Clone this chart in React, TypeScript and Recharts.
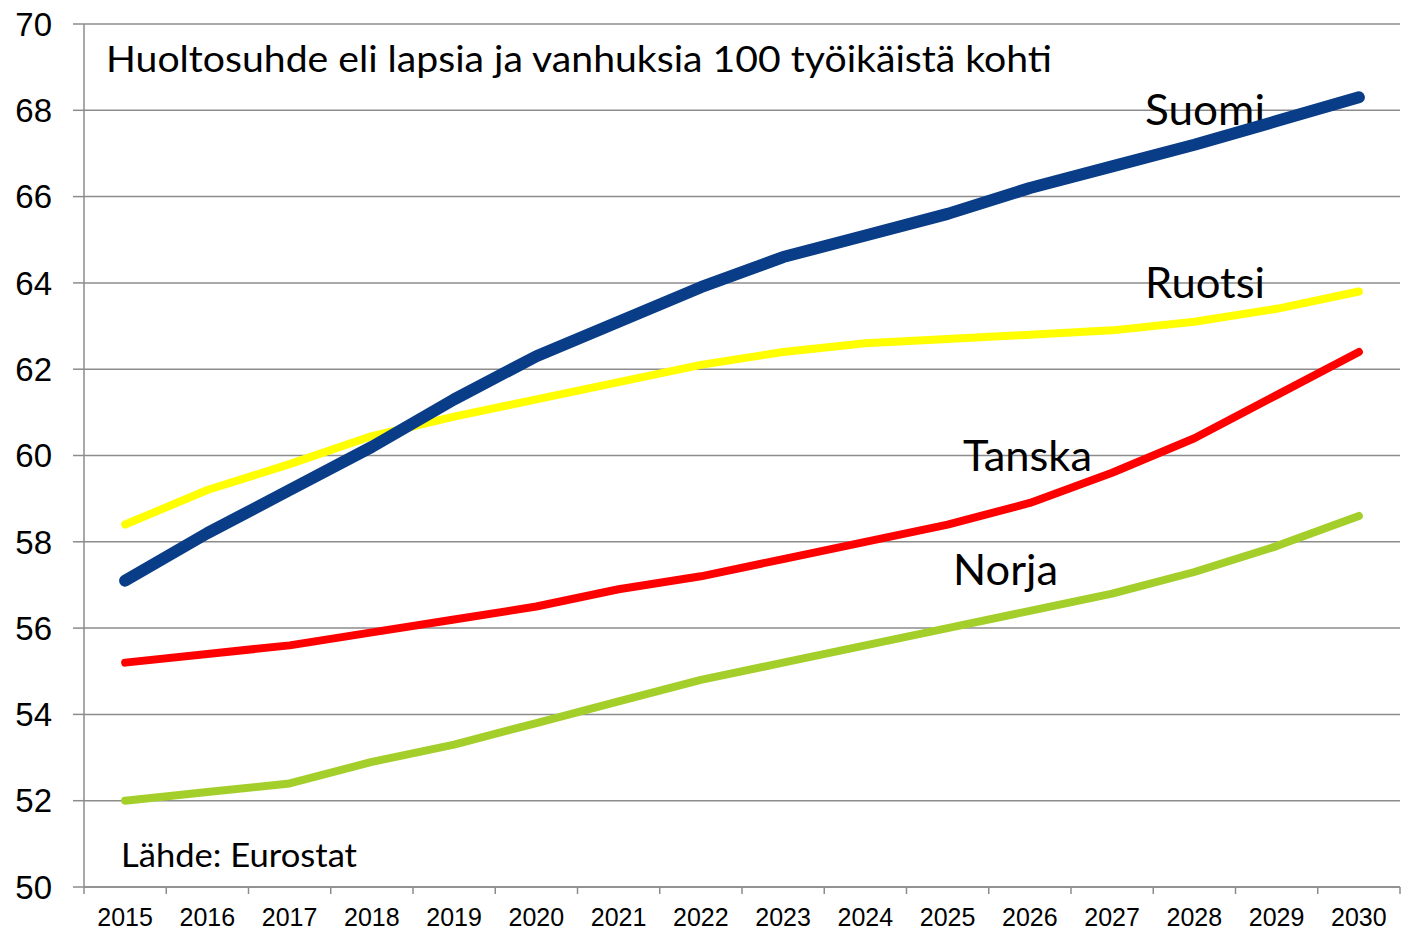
import React from 'react';
import { LineChart, Line, XAxis, YAxis, CartesianGrid, Customized } from 'recharts';

const years = ['2015','2016','2017','2018','2019','2020','2021','2022','2023','2024','2025','2026','2027','2028','2029','2030'];
const suomi = [57.1, 58.2, 59.2, 60.2, 61.3, 62.3, 63.1, 63.9, 64.6, 65.1, 65.6, 66.2, 66.7, 67.2, 67.75, 68.3];
const ruotsi = [58.4, 59.2, 59.8, 60.45, 60.9, 61.3, 61.7, 62.1, 62.4, 62.6, 62.7, 62.8, 62.9, 63.1, 63.4, 63.8];
const tanska = [55.2, 55.4, 55.6, 55.9, 56.2, 56.5, 56.9, 57.2, 57.6, 58.0, 58.4, 58.9, 59.6, 60.4, 61.4, 62.4];
const norja = [52.0, 52.2, 52.4, 52.9, 53.3, 53.8, 54.3, 54.8, 55.2, 55.6, 56.0, 56.4, 56.8, 57.3, 57.9, 58.6];
const yTicks = [50, 52, 54, 56, 58, 60, 62, 64, 66, 68, 70];

const title = 'Huoltosuhde eli lapsia ja vanhuksia 100 työikäistä kohti';
const source = 'Lähde: Eurostat';

const data = years.map((y, i) => ({ year: y, suomi: suomi[i], ruotsi: ruotsi[i], tanska: tanska[i], norja: norja[i] }));

const GRID = '#8c8c8c';
const LABEL_FONT = 'Lato, "Open Sans", sans-serif';

const XTick = (props: any) => {
  const { x, y, payload, index, visibleTicksCount } = props;
  const half = payload && payload.offset ? payload.offset : 41.125;
  const isLast = index === visibleTicksCount - 1;
  return (
    <g>
      <line x1={x - half} x2={x - half} y1={y - 7} y2={y} stroke={GRID} strokeWidth={1.5} />
      {isLast && <line x1={x + half} x2={x + half} y1={y - 7} y2={y} stroke={GRID} strokeWidth={1.5} />}
      <text x={x} y={y + 32} textAnchor="middle" fontFamily='"Liberation Sans", Arial, sans-serif' fontSize={25} fill="#000">
        {payload.value}
      </text>
    </g>
  );
};

const Annotations = () => (
  <g fontFamily={LABEL_FONT} fill="#000">
    <text x={106} y={72} fontSize={37} textLength={946} lengthAdjust="spacingAndGlyphs">{title}</text>
    <text x={1145} y={125} fontSize={42} textLength={120} lengthAdjust="spacingAndGlyphs">Suomi</text>
    <text x={1145} y={298} fontSize={42} textLength={120} lengthAdjust="spacingAndGlyphs">Ruotsi</text>
    <text x={963} y={471} fontSize={42} textLength={129} lengthAdjust="spacingAndGlyphs">Tanska</text>
    <text x={953} y={585} fontSize={42} textLength={105} lengthAdjust="spacingAndGlyphs">Norja</text>
    <text x={121} y={867} fontSize={32} textLength={236} lengthAdjust="spacingAndGlyphs">{source}</text>
  </g>
);

export default function App() {
  return (
    <div style={{ position: 'absolute', left: 0, top: 0, width: 1401, height: 931, background: '#fff' }}>
      <LineChart width={1401} height={931} data={data} margin={{ top: 24, right: 1, bottom: 0, left: 0 }}>
        <CartesianGrid vertical={false} stroke={GRID} strokeWidth={1.5} />
        <XAxis
          dataKey="year"
          scale="band"
          height={44}
          axisLine={{ stroke: GRID, strokeWidth: 1.5 }}
          tickLine={false}
          tickSize={7}
          tickMargin={0}
          interval={0}
          tick={<XTick />}
        />
        <YAxis
          type="number"
          domain={[50, 70]}
          ticks={yTicks}
          width={84}
          axisLine={{ stroke: GRID, strokeWidth: 1.5 }}
          tickLine={{ stroke: GRID, strokeWidth: 1.5 }}
          tickSize={11}
          tickMargin={21}
          tick={{ fontFamily: '"Liberation Sans", Arial, sans-serif', fontSize: 33, fill: '#000' }}
          interval={0}
        />
        <Line dataKey="norja" stroke="#a4cf2b" strokeWidth={8} dot={false} strokeLinecap="round" strokeLinejoin="round" isAnimationActive={false} />
        <Line dataKey="tanska" stroke="#ff0000" strokeWidth={8} dot={false} strokeLinecap="round" strokeLinejoin="round" isAnimationActive={false} />
        <Line dataKey="ruotsi" stroke="#ffff00" strokeWidth={8} dot={false} strokeLinecap="round" strokeLinejoin="round" isAnimationActive={false} />
        <Line dataKey="suomi" stroke="#0a3d87" strokeWidth={12} dot={false} strokeLinecap="round" strokeLinejoin="round" isAnimationActive={false} />
        <Customized component={Annotations} />
      </LineChart>
    </div>
  );
}
